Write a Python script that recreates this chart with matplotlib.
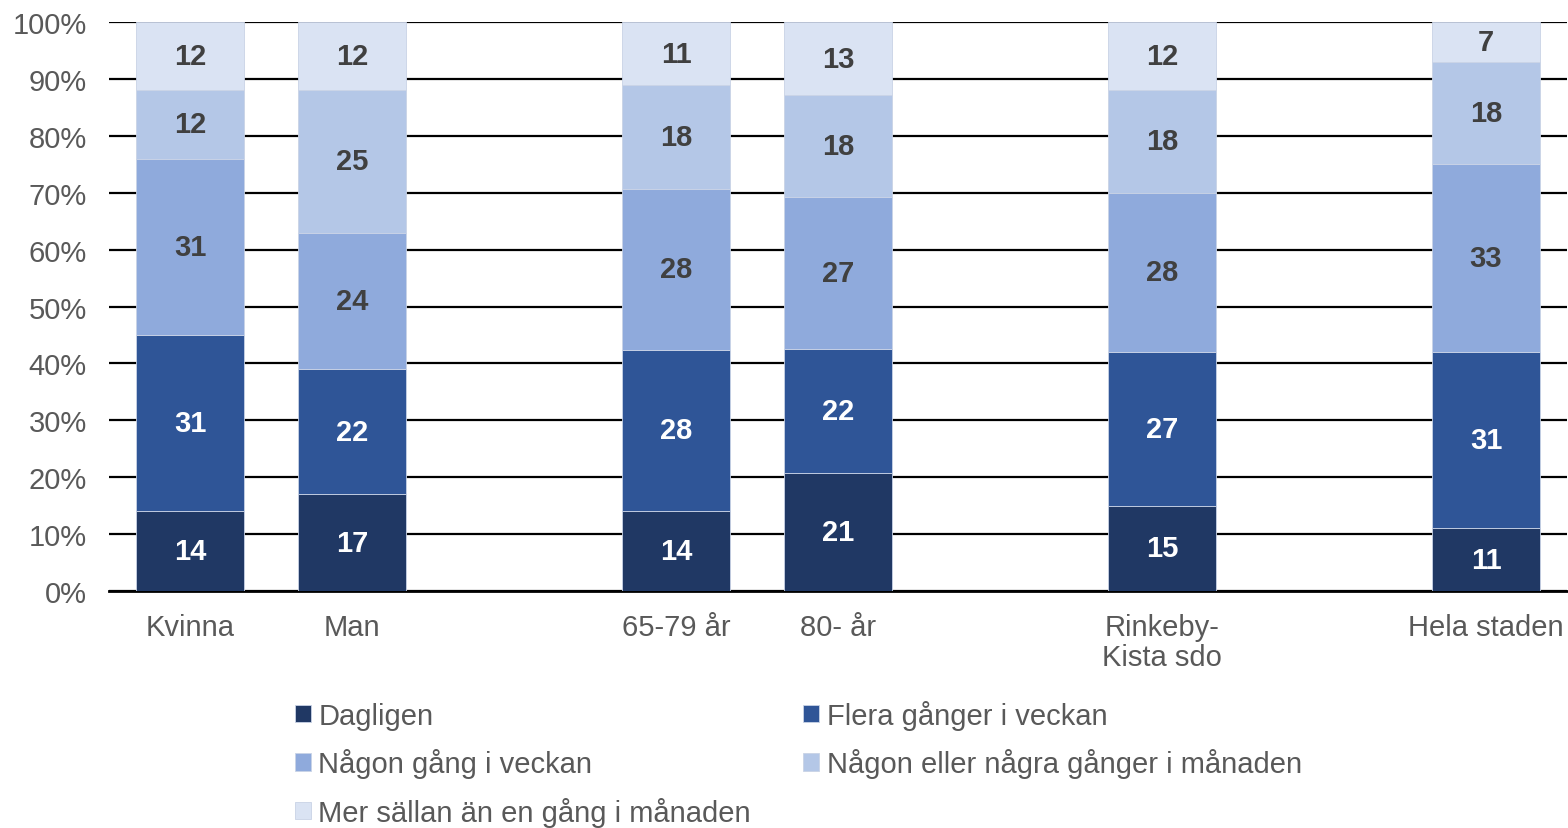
import numpy as np
import matplotlib.pyplot as plt

plt.rcParams['font.family'] = ['Liberation Sans', 'DejaVu Sans']

# Kategorier (tomma platser ger mellanrum mellan grupperna)
kategorier = ['Kvinna', 'Man', '', '65-79 år', '80- år', '', 'Rinkeby-\nKista sdo', '', 'Hela staden']

# Andelar i procent per svarsalternativ (None = tom plats)
dagligen = [14, 17, None, 14, 21, None, 15, None, 11]
flera_ggr_vecka = [31, 22, None, 28, 22, None, 27, None, 31]
nagon_gang_vecka = [31, 24, None, 28, 27, None, 28, None, 33]
nagon_ggr_manad = [12, 25, None, 18, 18, None, 18, None, 18]
mer_sallan = [12, 12, None, 11, 13, None, 12, None, 7]

serier = [
    ('Dagligen', dagligen, '#203864', 'white'),
    ('Flera gånger i veckan', flera_ggr_vecka, '#2F5597', 'white'),
    ('Någon gång i veckan', nagon_gang_vecka, '#8FAADC', '#404040'),
    ('Någon eller några gånger i månaden', nagon_ggr_manad, '#B4C7E7', '#404040'),
    ('Mer sällan än en gång i månaden', mer_sallan, '#DAE3F3', '#404040'),
]

fig = plt.figure(figsize=(15.68, 8.29), dpi=100)
ax = fig.add_axes([109 / 1568, 1 - 592 / 829, 1458 / 1568, 569 / 829])

x = np.arange(len(kategorier))
summa = np.array([sum(s[1][i] for s in serier) if dagligen[i] is not None else 0
                  for i in range(len(kategorier))], dtype=float)
botten = np.zeros(len(kategorier))
handtag = []
for namn, varden, farg, textfarg in serier:
    v = np.array([0 if a is None else a for a in varden], dtype=float)
    h = np.where(summa > 0, v / np.where(summa > 0, summa, 1) * 100, 0)
    b = ax.bar(x, h, bottom=botten, width=0.667, color=farg, label=namn,
               edgecolor='#c9d3e6', linewidth=0.6, zorder=3)
    handtag.append(b)
    for i, a in enumerate(varden):
        if a is None:
            continue
        ax.text(x[i], botten[i] + h[i] / 2, str(a), ha='center', va='center',
                fontsize=21, fontweight='bold', color=textfarg, zorder=4)
    botten += h

ax.set_xlim(-0.5, len(kategorier) - 0.5)
ax.set_ylim(0, 100)
ax.set_yticks(np.arange(0, 101, 10))
ax.set_yticklabels([f'{t}%' for t in range(0, 101, 10)])
ax.set_xticks(x)
ax.set_xticklabels(kategorier, linespacing=1.1)
ax.tick_params(axis='both', length=0, labelsize=21, labelcolor='#595959')
ax.tick_params(axis='y', pad=16)
ax.tick_params(axis='x', pad=16)
ax.grid(axis='y', color='black', linewidth=1.6, zorder=0)
for s in ['left', 'right', 'top']:
    ax.spines[s].set_visible(False)
ax.spines['bottom'].set_linewidth(2)
ax.spines['bottom'].set_color('black')

# Ordna legenden radvis i två kolumner
ordning = [0, 2, 4, 1, 3]
fig.legend([handtag[i] for i in ordning], [serier[i][0] for i in ordning],
           loc='upper left', bbox_to_anchor=(295 / 1568, 1 - 701 / 829),
           ncol=2, frameon=False, fontsize=21, labelcolor='#595959',
           handlelength=0.55, handleheight=0.55, handletextpad=0.25,
           columnspacing=1.8, labelspacing=0.63, borderpad=0, borderaxespad=0)

fig.savefig('out.png', dpi=100)
